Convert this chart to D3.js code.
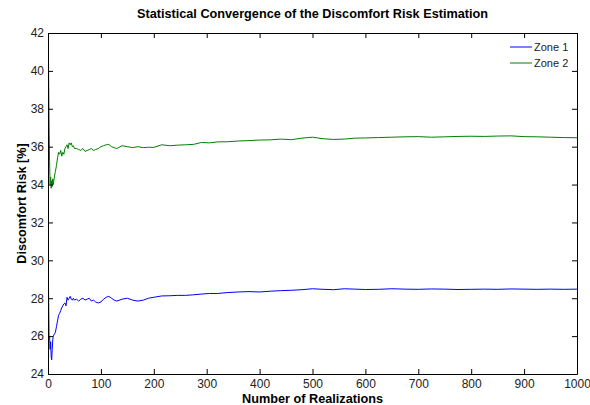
<!DOCTYPE html>
<html>
<head>
<meta charset="utf-8">
<script src="https://cdn.jsdelivr.net/npm/d3@7"></script>
<style>
  body { margin: 0; background: #fff; }
  text { font-family: "Liberation Sans", Arial, sans-serif; }
</style>
</head>
<body>
<div id="chart"></div>
<script>
var w = 590;
var h = 405;

var realizations = [1,2,3,4,5,6,7,8,9,10,
  12,14,16,18,20,22,24,26,28,30,
  32,34,36,38,40,42,44,46,48,50,
  54,58,62,66,70,74,78,82,86,90,
  95,100,105,110,115,120,125,130,140,150,
  160,170,180,190,200,215,230,245,260,275,
  290,305,320,340,360,380,400,420,440,460,
  480,500,520,540,560,580,600,625,650,675,
  700,725,750,775,800,825,850,875,900,925,
  950,975,1000];

var zone1 = [28.5,25.9,26.0,25.3,25.7,24.9,24.75,25.3,25.8,26.0,
  26.1,26.2,26.5,26.8,27.1,27.2,27.35,27.5,27.6,27.7,
  27.75,27.6,28.05,27.9,28.0,28.1,27.95,27.9,28.0,27.9,
  27.95,27.85,27.95,28.0,27.9,27.95,28.0,27.85,27.9,27.8,
  27.75,27.8,27.95,28.05,28.1,28.0,27.9,27.85,27.95,28.0,
  27.9,27.85,27.9,28.0,28.05,28.12,28.13,28.15,28.15,28.18,
  28.22,28.25,28.25,28.3,28.33,28.35,28.33,28.37,28.4,28.42,
  28.45,28.5,28.47,28.45,28.5,28.48,28.46,28.47,28.5,28.48,
  28.47,28.49,28.48,28.46,28.47,28.48,28.47,28.49,28.48,28.47,
  28.48,28.47,28.48];

var zone2 = [40.4,37.5,35.2,34.0,34.4,33.8,34.2,33.9,34.3,34.0,
  34.4,34.7,35.0,35.4,35.7,35.6,35.8,35.5,35.7,35.6,
  35.9,36.0,36.1,35.9,36.2,36.1,36.2,36.0,36.05,35.9,
  35.9,35.85,35.8,35.9,35.75,35.8,35.85,35.9,35.8,35.85,
  35.9,36.0,36.05,36.1,36.12,36.0,35.95,35.9,36.05,36.0,
  35.95,36.0,35.95,35.97,35.96,36.1,36.05,36.08,36.1,36.12,
  36.22,36.2,36.25,36.26,36.3,36.32,36.35,36.36,36.4,36.37,
  36.45,36.5,36.42,36.38,36.4,36.45,36.46,36.48,36.5,36.52,
  36.53,36.5,36.52,36.54,36.55,36.54,36.56,36.57,36.53,36.52,
  36.5,36.48,36.47];

var seriesNames = ["Zone 1", "Zone 2"];
var seriesColors = ["#0000ff", "#008000"];
var xTicks = [0,100,200,300,400,500,600,700,800,900,1000];
var yTicks = [24,26,28,30,32,34,36,38,40,42];

var padLeft = 48, padRight = 577, padTop = 33, padBottom = 374;

var xScale = d3.scaleLinear().domain([0, 1000]).range([padLeft, padRight]);
var yScale = d3.scaleLinear().domain([24, 42]).range([padBottom, padTop]);

var svg = d3.select("#chart").append("svg")
  .attr("width", w)
  .attr("height", h);

// title
svg.append("text")
  .attr("x", (padLeft + padRight) / 2)
  .attr("y", 18)
  .attr("text-anchor", "middle")
  .style("font-size", "12.7px")
  .style("font-weight", "bold")
  .text("Statistical Convergence of the Discomfort Risk Estimation");

// lines
var line = d3.line()
  .x(function(d) { return xScale(d[0]); })
  .y(function(d) { return yScale(d[1]); });

[zone1, zone2].forEach(function(vals, i) {
  svg.append("path")
    .datum(realizations.map(function(r, j) { return [r, vals[j]]; }))
    .attr("fill", "none")
    .attr("stroke", seriesColors[i])
    .attr("stroke-width", 1)
    .attr("d", line);
});

// axes, ticks inside on all four sides
var xAxis = d3.axisBottom(xScale).tickValues(xTicks).tickFormat(d3.format("d"))
  .tickSizeInner(-5).tickSizeOuter(0).tickPadding(5);
var yAxis = d3.axisLeft(yScale).tickValues(yTicks).tickFormat(d3.format("d"))
  .tickSizeInner(-5).tickSizeOuter(0).tickPadding(4);

svg.append("g")
  .attr("class", "x axis")
  .attr("transform", "translate(0," + padBottom + ")")
  .call(xAxis);

svg.append("g")
  .attr("class", "y axis")
  .attr("transform", "translate(" + padLeft + ",0)")
  .call(yAxis);

svg.append("g")
  .attr("transform", "translate(0," + padTop + ")")
  .call(d3.axisTop(xScale).tickValues(xTicks).tickSizeInner(-5).tickSizeOuter(0).tickFormat(""));

svg.append("g")
  .attr("transform", "translate(" + padRight + ",0)")
  .call(d3.axisRight(yScale).tickValues(yTicks).tickSizeInner(-5).tickSizeOuter(0).tickFormat(""));

svg.selectAll(".domain").attr("stroke", "#000");
svg.selectAll(".tick line").attr("stroke", "#000");
svg.selectAll(".tick text")
  .style("font-size", "12px")
  .style("font-family", "'Liberation Sans', Arial, sans-serif")
  .attr("fill", "#222");

// axis labels
svg.append("text")
  .attr("x", (padLeft + padRight) / 2)
  .attr("y", 403)
  .attr("text-anchor", "middle")
  .style("font-size", "12.7px")
  .style("font-weight", "bold")
  .text("Number of Realizations");

svg.append("text")
  .attr("transform", "translate(26," + ((padTop + padBottom) / 2) + ") rotate(-90)")
  .attr("text-anchor", "middle")
  .style("font-size", "12.7px")
  .style("font-weight", "bold")
  .text("Discomfort Risk [%]");

// legend
var legend = svg.append("g");
seriesNames.forEach(function(name, i) {
  var ly = 47 + i * 16;
  legend.append("line")
    .attr("x1", 510).attr("x2", 532)
    .attr("y1", ly).attr("y2", ly)
    .attr("stroke", seriesColors[i]);
  legend.append("text")
    .attr("x", 534)
    .attr("y", ly + 4)
    .style("font-size", "11px")
    .attr("fill", "#222")
    .text(name);
});
</script>
</body>
</html>
